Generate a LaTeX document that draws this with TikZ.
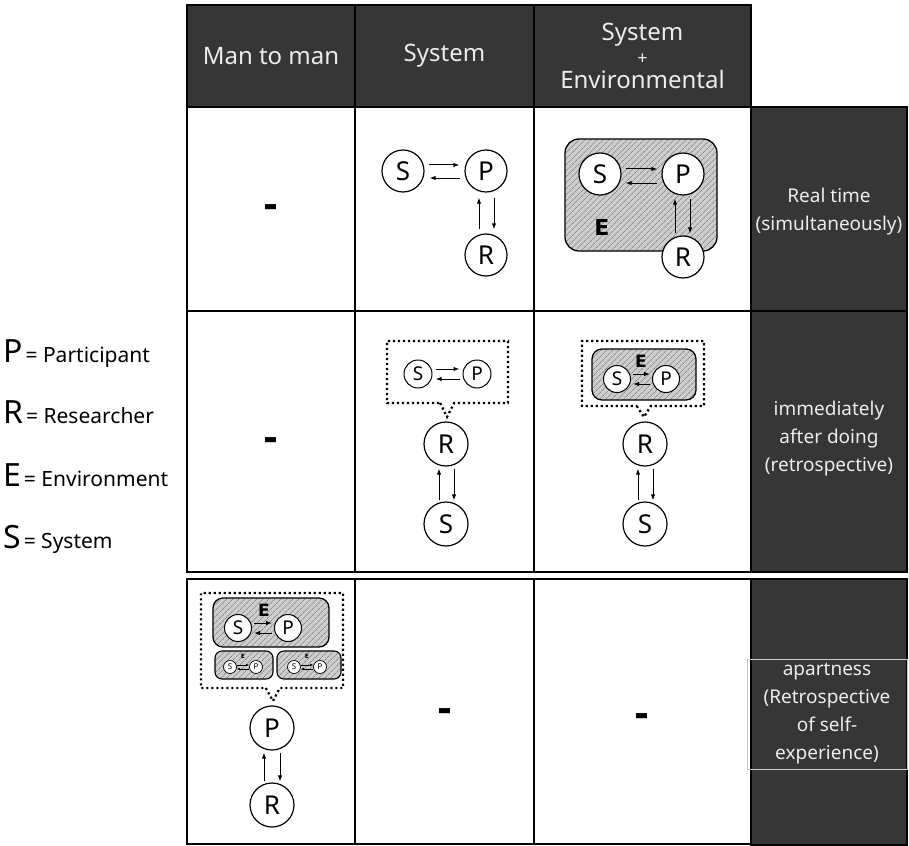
\documentclass[tikz,border=0pt]{standalone}
\usepackage{fontspec}
\setmainfont{Noto Sans}
\newfontfamily\tagfont{DejaVu Sans}
\usetikzlibrary{arrows.meta,positioning,shapes.callouts,patterns.meta}
\definecolor{CellDark}{HTML}{363636}
\definecolor{HeadText}{HTML}{ECECEC}
\definecolor{EnvFill}{HTML}{CDCDCD}
\definecolor{EnvHatch}{HTML}{6E6E6E}

\tikzset{
  ent/.style={circle, draw, line width=1.2pt, fill=white, minimum size=42pt, inner sep=0pt, font=\fontsize{26}{26}\selectfont},
  entsmall/.style={ent, minimum size=28pt, line width=1pt, font=\fontsize{19}{19}\selectfont},
  enttiny/.style={ent, minimum size=13pt, line width=0.7pt, font=\fontsize{8}{8}\selectfont},
  envbox/.style={draw, line width=1.3pt, rounded corners=11pt, preaction={fill=EnvFill}, pattern={Lines[angle=45,distance=4pt,line width=0.6pt]}, pattern color=EnvHatch},
  envtag/.style={font=\tagfont\bfseries\fontsize{17}{17}\selectfont},
  memo/.style={rectangle callout, draw, line width=2.2pt, dash pattern=on 2.2pt off 2.8pt, callout pointer width=14pt},
  flow/.style={-{Latex[length=6pt,width=4.4pt]}, line width=1pt},
  tinyflow/.style={-{Latex[length=3pt,width=2.6pt]}, line width=0.7pt},
  grid/.style={line width=1.5pt},
  headcell/.style={draw, line width=1.3pt, fill=CellDark, text=HeadText, align=center, font=\fontsize{24}{23}\selectfont},
  sidecell/.style={draw, line width=1.3pt, fill=CellDark},
  sidetext/.style={text=HeadText, align=center, font=\fontsize{19}{28}\selectfont},
  nocase/.style={font=\tagfont\bfseries\fontsize{36}{36}\selectfont},
  legend/.style={anchor=base west, font=\fontsize{21}{21}\selectfont},
}

\begin{document}
\begin{tikzpicture}[x=1pt, y=-1pt, every node/.style={inner sep=0pt}]
  \useasboundingbox (0,0) rectangle (909,845);

  % header row
  \node[headcell, minimum width=168pt, minimum height=102pt] (hman) at (271,56) {Man to man};
  \node[headcell, minimum width=179pt, minimum height=102pt] (hsys) at (444.5,56) {System};
  \node[headcell, minimum width=217pt, minimum height=102pt] (henv) at (642.5,56) {System\\[1pt]{\fontsize{18}{18}\selectfont +}\\[1pt]Environmental};

  % table body
  \draw[grid] (187,107) rectangle (751,572);
  \draw[grid] (355,107) -- (355,572);
  \draw[grid] (534,107) -- (534,572);
  \draw[grid] (187,311) -- (751,311);
  \draw[grid] (187,579) rectangle (751,844);
  \draw[grid] (355,579) -- (355,844);
  \draw[grid] (534,579) -- (534,844);

  % timing column
  \node[sidecell, minimum width=156pt, minimum height=204pt] (trt) at (829,209) {};
  \node[sidecell, minimum width=156pt, minimum height=261pt] (tim) at (829,441.5) {};
  \node[sidecell, minimum width=156pt, minimum height=266pt] (tap) at (829,712) {};
  \node[sidetext] at ([yshift=-3pt]trt.center) {Real time\\(simultaneously)};
  \node[sidetext] at ([yshift=3pt]tim.center) {immediately\\after doing\\(retrospective)};
  \node[sidetext, draw=gray!40, line width=0.6pt, minimum width=160pt, minimum height=110pt] at (827,714) {apartness\\(Retrospective\\of self-\\experience)};

  % empty cells
  \node[nocase] (n11) at (271,211) {-};
  \node[nocase] (n21) at (271,444) {-};
  \node[nocase] (n32) at (445,715) {-};
  \node[nocase] (n33) at (642,720) {-};

  % real time / system
  \node[ent] (s12) at (403,171) {S};
  \node[ent] (p12) at (486,171) {P};
  \node[ent] (r12) at (486,255) {R};
  \draw[flow, shorten <=4pt, shorten >=5pt] ([yshift=6pt]s12.east) -- ([yshift=6pt]p12.west);
  \draw[flow, shorten <=4pt, shorten >=5pt] ([yshift=-7pt]p12.west) -- ([yshift=-7pt]s12.east);
  \draw[flow, shorten <=4pt, shorten >=5pt] ([xshift=-7pt]r12.north) -- ([xshift=-7pt]p12.south);
  \draw[flow, shorten <=5pt, shorten >=4pt] ([xshift=8pt]p12.south) -- ([xshift=8pt]r12.north);

  % real time / system + environment
  \node[envbox, rounded corners=14pt, minimum width=152pt, minimum height=112pt] (env13) at (641,195) {};
  \node[envtag, font=\tagfont\bfseries\fontsize{22}{22}\selectfont] (e13) at (602,227) {E};
  \node[ent] (s13) at (600,174) {S};
  \node[ent] (p13) at (683,174) {P};
  \node[ent] (r13) at (683,257) {R};
  \draw[flow, shorten <=4pt, shorten >=4pt] ([yshift=5pt]s13.east) -- ([yshift=5pt]p13.west);
  \draw[flow, shorten <=4pt, shorten >=4pt] ([yshift=-9pt]p13.west) -- ([yshift=-9pt]s13.east);
  \draw[flow, shorten <=2pt, shorten >=3pt] ([xshift=-8pt]r13.north) -- ([xshift=-8pt]p13.south);
  \draw[flow, shorten <=3pt, shorten >=2pt] ([xshift=7pt]p13.south) -- ([xshift=7pt]r13.north);

  % retrospective / system
  \node[ent, minimum size=44pt] (r22) at (446,444) {R};
  \node[ent, minimum size=44pt] (s22) at (446,524) {S};
  \node[memo, minimum width=121pt, minimum height=62pt, callout absolute pointer={(447,417)}] (memo22) at (447.5,372) {};
  \node[entsmall] (sa22) at (418,374) {S};
  \node[entsmall] (pa22) at (477,374) {P};
  \draw[flow, shorten <=3pt, shorten >=3pt] ([yshift=5pt]sa22.east) -- ([yshift=5pt]pa22.west);
  \draw[flow, shorten <=3pt, shorten >=3pt] ([yshift=-5pt]pa22.west) -- ([yshift=-5pt]sa22.east);
  \draw[flow, shorten <=1pt, shorten >=2pt] ([xshift=-7pt]s22.north) -- ([xshift=-7pt]r22.south);
  \draw[flow, shorten <=2pt, shorten >=1pt] ([xshift=8pt]r22.south) -- ([xshift=8pt]s22.north);

  % retrospective / system + environment
  \node[ent, minimum size=44pt] (r23) at (645,444) {R};
  \node[ent, minimum size=44pt] (s23) at (645,524) {S};
  \node[memo, minimum width=122pt, minimum height=65pt, callout absolute pointer={(644,417)}] (memo23) at (643,373.5) {};
  \node[envbox, rounded corners=10pt, minimum width=104pt, minimum height=51pt] (env23) at (644,374.5) {};
  \node[envtag] (e23) at (641,361) {E};
  \node[entsmall, minimum size=27pt] (sa23) at (617,379) {S};
  \node[entsmall, minimum size=27pt] (pa23) at (666,379) {P};
  \draw[flow, shorten <=2pt, shorten >=2pt] ([yshift=5pt]sa23.east) -- ([yshift=5pt]pa23.west);
  \draw[flow, shorten <=2pt, shorten >=2pt] ([yshift=-5pt]pa23.west) -- ([yshift=-5pt]sa23.east);
  \draw[flow, shorten <=1pt, shorten >=2pt] ([xshift=-7pt]s23.north) -- ([xshift=-7pt]r23.south);
  \draw[flow, shorten <=2pt, shorten >=1pt] ([xshift=8pt]r23.south) -- ([xshift=8pt]s23.north);

  % apartness / man to man
  \node[ent, minimum size=44pt] (p31) at (272,728) {P};
  \node[ent, minimum size=44pt] (r31) at (272,805) {R};
  \node[memo, minimum width=142pt, minimum height=95pt, callout absolute pointer={(273,701)}] (memo31) at (272,640.5) {};
  \node[envbox, rounded corners=10pt, minimum width=116pt, minimum height=49pt] (env31) at (271,622.5) {};
  \node[envtag] (e31) at (264,610) {E};
  \node[entsmall, minimum size=27pt] (sa31) at (238,628) {S};
  \node[entsmall, minimum size=27pt] (pa31) at (288,628) {P};
  \draw[flow, shorten <=2pt, shorten >=2pt] ([yshift=5pt]sa31.east) -- ([yshift=5pt]pa31.west);
  \draw[flow, shorten <=2pt, shorten >=2pt] ([yshift=-5pt]pa31.west) -- ([yshift=-5pt]sa31.east);
  \node[envbox, rounded corners=7pt, line width=1.1pt, minimum width=58pt, minimum height=28pt] (envl31) at (244,665) {};
  \node[envbox, rounded corners=7pt, line width=1.1pt, minimum width=64pt, minimum height=28pt] (envr31) at (309,665) {};
  \node[font=\tagfont\bfseries\fontsize{6}{6}\selectfont] (el31) at (243,656) {E};
  \node[font=\tagfont\bfseries\fontsize{6}{6}\selectfont] (er31) at (307,656) {E};
  \node[enttiny] (sl31) at (230,667) {S};
  \node[enttiny] (pl31) at (256,667) {P};
  \node[enttiny] (sr31) at (294,667) {S};
  \node[enttiny] (pr31) at (320,667) {P};
  \draw[tinyflow] ([yshift=2pt]sl31.east) -- ([yshift=2pt]pl31.west);
  \draw[tinyflow] ([yshift=-2pt]pl31.west) -- ([yshift=-2pt]sl31.east);
  \draw[tinyflow] ([yshift=2pt]sr31.east) -- ([yshift=2pt]pr31.west);
  \draw[tinyflow] ([yshift=-2pt]pr31.west) -- ([yshift=-2pt]sr31.east);
  \draw[flow, shorten <=1pt, shorten >=2pt] ([xshift=-8pt]r31.north) -- ([xshift=-8pt]p31.south);
  \draw[flow, shorten <=2pt, shorten >=1pt] ([xshift=8pt]p31.south) -- ([xshift=8pt]r31.north);

  % legend
  \node[legend] (lgp) at (3,362) {{\fontsize{32}{32}\selectfont P}\hspace{3pt}= Participant};
  \node[legend] (lgr) at (3,423) {{\fontsize{32}{32}\selectfont R}\hspace{3pt}= Researcher};
  \node[legend] (lge) at (3,486) {{\fontsize{32}{32}\selectfont E}\hspace{3pt}= Environment};
  \node[legend] (lgs) at (3,548) {{\fontsize{32}{32}\selectfont S}\hspace{3pt}= System};
\end{tikzpicture}
\end{document}
